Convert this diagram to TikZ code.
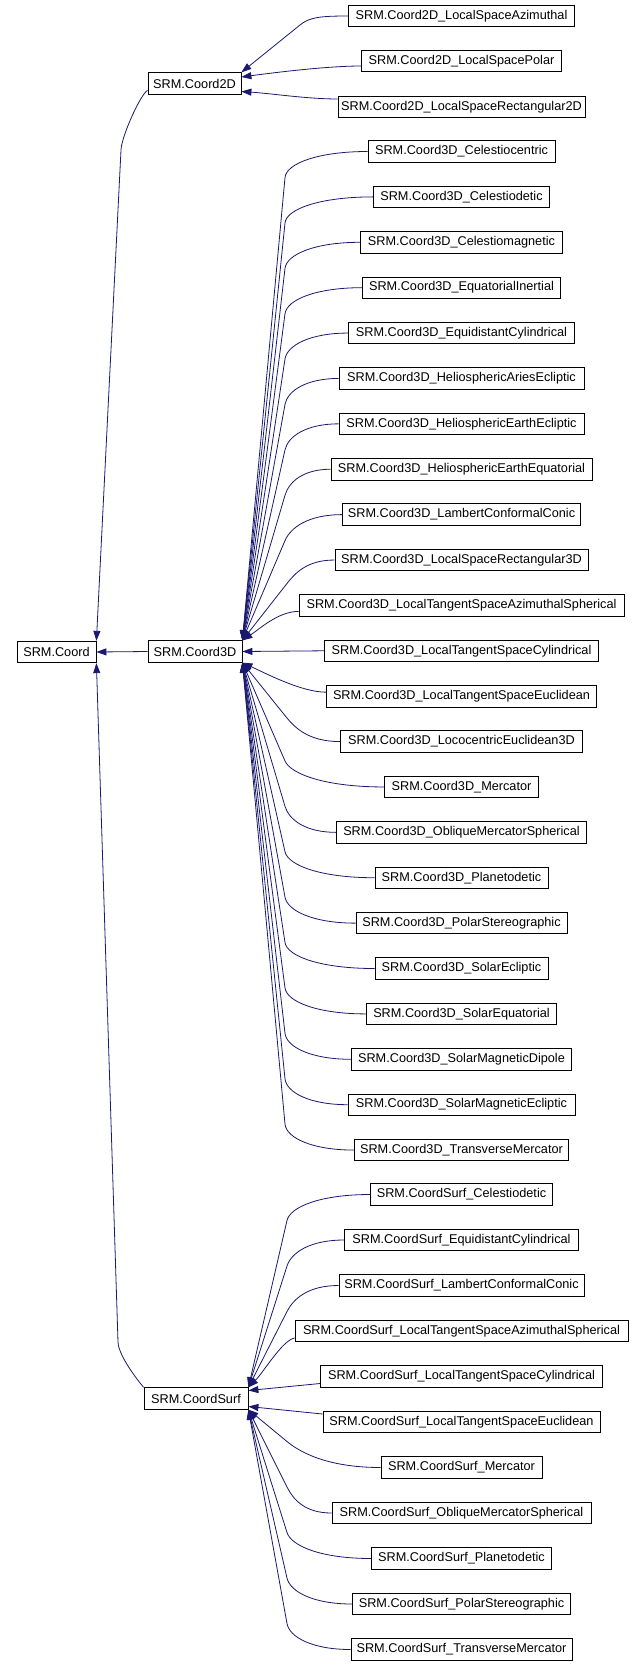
\documentclass[tikz,border=0pt]{standalone}
\usepackage{fontspec}
\setmainfont{Liberation Sans}
\usetikzlibrary{arrows.meta,calc}
\definecolor{edgeblue}{HTML}{191970}
\tikzset{
  box/.style={draw=black, line width=0.8pt, fill=white, minimum height=21.5pt, inner sep=0pt, font=\fontsize{12.7}{14}\selectfont},
  edge/.style={draw=edgeblue, line width=0.8pt, -{Triangle[length=10pt,width=7pt]}, fill=none},
}
\newcommand\bentedge[4]{% child, bx, by, parent anchor
  \coordinate (bend-#1) at (#2,#3);
  \draw[edge] (#1.west) .. controls ($(#1.west)!0.6!(#1.west -| bend-#1)$) and ($(bend-#1)!-14pt!(#4)$) .. (bend-#1) -- (#4);
}
\begin{document}
\begin{tikzpicture}[x=1pt,y=-1pt]
\useasboundingbox (0,0) rectangle (644,1665);
\fill[white] (0,0) rectangle (644,1665);
% parents
\node[box, minimum width=79pt] (Coord) at (56.5,652) {SRM.Coord};
\node[box, minimum width=93pt] (Coord2D) at (194.5,83.5) {SRM.Coord2D};
\node[box, minimum width=94pt] (Coord3D) at (195,651.5) {SRM.Coord3D};
\node[box, minimum width=104pt] (CoordSurf) at (196,1398.5) {SRM.CoordSurf};
% 2D children
\foreach \i/\lab/\w/\y in {0/LocalSpaceAzimuthal/226/16, 1/LocalSpacePolar/200/61, 2/LocalSpaceRectangular2D/247/107}
  \node[box, minimum width=\w pt] (c2d\i) at (461.5,\y) {SRM.Coord2D\_\lab};
% 3D children
\foreach \i/\lab/\w in {0/Celestiocentric/187, 1/Celestiodetic/176, 2/Celestiomagnetic/202, 3/EquatorialInertial/198,
  4/EquidistantCylindrical/226, 5/HeliosphericAriesEcliptic/245, 6/HeliosphericEarthEcliptic/245,
  7/HeliosphericEarthEquatorial/261, 8/LambertConformalConic/238, 9/LocalSpaceRectangular3D/253,
  10/LocalTangentSpaceAzimuthalSpherical/325, 11/LocalTangentSpaceCylindrical/274, 12/LocalTangentSpaceEuclidean/270,
  13/LococentricEuclidean3D/242, 14/Mercator/154, 15/ObliqueMercatorSpherical/250, 16/Planetodetic/173,
  17/PolarStereographic/211, 18/SolarEcliptic/173, 19/SolarEquatorial/190, 20/SolarMagneticDipole/220,
  21/SolarMagneticEcliptic/227, 22/TransverseMercator/214}
  \node[box, minimum width=\w pt] (c3d\i) at (461.5,{151.5+45.39*\i}) {SRM.Coord3D\_\lab};
% Surf children
\foreach \i/\lab/\w in {0/Celestiodetic/182, 1/EquidistantCylindrical/234, 2/LambertConformalConic/245,
  3/LocalTangentSpaceAzimuthalSpherical/333, 4/LocalTangentSpaceCylindrical/282, 5/LocalTangentSpaceEuclidean/277,
  6/Mercator/161, 7/ObliqueMercatorSpherical/259, 8/Planetodetic/180, 9/PolarStereographic/218, 10/TransverseMercator/221}
  \node[box, minimum width=\w pt] (cs\i) at (461.5,{1194.5+45.5*\i}) {SRM.CoordSurf\_\lab};

% edges to Coord
\draw[edge] (Coord3D.west) -- (Coord.east);
\coordinate (b2d) at (121,150);
\draw[edge] ([yshift=-7pt]Coord2D.west) .. controls ($([yshift=-7pt]Coord2D.west)+(-6,2)$) and ($(b2d)!-15pt!(Coord.north east)$) .. (b2d) -- (Coord.north east);
\coordinate (bsf) at (118,1342);
\draw[edge] (CoordSurf.north west) .. controls ($(CoordSurf.north west)+(-10,-12)$) and ($(bsf)!-12pt!(Coord.south east)$) .. (bsf) -- (Coord.south east);

% 2D edges
\coordinate (bend-c2d0) at (300,25);
\draw[edge] (c2d0.west) .. controls ($(c2d0.west)!0.6!(c2d0.west -| bend-c2d0)$) and ($(bend-c2d0)!-12pt!(Coord2D.north east)$) .. (bend-c2d0) -- (Coord2D.north east);
\draw[edge] ([yshift=-5pt]c2d1.west) .. controls ($([yshift=-5pt]c2d1.west)+(-35,0)$) and ($([yshift=6.5pt]Coord2D.east)+(30,-4)$) .. ([yshift=6.5pt]Coord2D.east);
\draw[edge] ([yshift=8pt]c2d2.west) .. controls ($([yshift=8pt]c2d2.west)+(-30,0)$) and ($([yshift=-8pt]Coord2D.east)+(30,2)$) .. ([yshift=-8pt]Coord2D.east);

% 3D edges
\foreach \i in {0,...,9}
  \bentedge{c3d\i}{285}{151.5+45.39*\i+26}{Coord3D.north east};
\draw[edge] ([yshift=-6pt]c3d10.west) .. controls ($([yshift=-6pt]c3d10.west)+(-20,0)$) and ($(Coord3D.north east)+(18,-12)$) .. (Coord3D.north east);
\draw[edge] (c3d11.west) -- (Coord3D.east);
\draw[edge] ([yshift=4pt]c3d12.west) .. controls ($([yshift=4pt]c3d12.west)+(-25,0)$) and ($(Coord3D.south east)+(22,10)$) .. (Coord3D.south east);
\foreach \i in {13,...,22}
  \bentedge{c3d\i}{285}{151.5+45.39*\i-26}{Coord3D.south east};

% Surf edges
\foreach \i in {0,1,2}
  \bentedge{cs\i}{287}{1194.5+45.5*\i+26}{CoordSurf.north east};
\draw[edge] ([yshift=-7pt]cs3.west) .. controls ($([yshift=-7pt]cs3.west)+(-12,2)$) and ($(CoordSurf.north east)+(15,-15)$) .. (CoordSurf.north east);
\draw[edge] ([yshift=-7pt]cs4.west) -- ([yshift=8pt]CoordSurf.east);
\draw[edge] ([yshift=8pt]cs5.west) -- ([yshift=-8pt]CoordSurf.east);
\foreach \i in {6,...,10}
  \bentedge{cs\i}{287}{1194.5+45.5*\i-26}{CoordSurf.south east};
\end{tikzpicture}
\end{document}
